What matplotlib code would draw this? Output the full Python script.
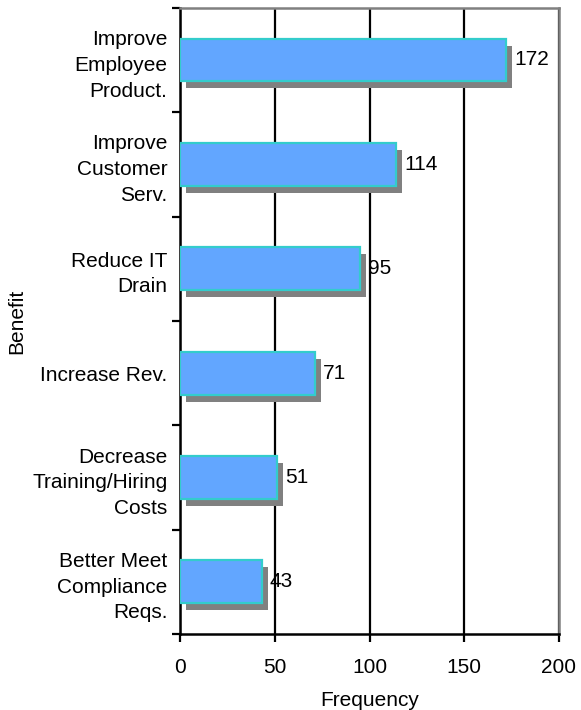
import matplotlib.pyplot as plt
from matplotlib.transforms import offset_copy

plt.rcParams['font.family'] = ['Liberation Sans', 'DejaVu Sans']

# Данные: преимущества и частоты (сверху вниз)
benefits = ['Improve\nEmployee\nProduct.',
            'Improve\nCustomer\nServ.',
            'Reduce IT\nDrain',
            'Increase Rev.',
            'Decrease\nTraining/Hiring\nCosts',
            'Better Meet\nCompliance\nReqs.']
frequency = [172, 114, 95, 71, 51, 43]
x_ticks = [0, 50, 100, 150, 200]

fs = 15

fig = plt.figure(figsize=(5.81, 7.10), dpi=100)
ax = fig.add_axes([0.31, 0.107, 0.652, 0.882])

n = len(benefits)
pos = [n - 1 - i for i in range(n)]

# Тень под столбцами
shadow_tr = offset_copy(ax.transData, fig=fig, x=6, y=-7, units='dots')
ax.barh(pos, frequency, height=0.41, color='#808080', transform=shadow_tr, zorder=2)
# Сами столбцы
ax.barh(pos, frequency, height=0.41, color='#62A6FF', edgecolor='#33CCCC',
        linewidth=1.6, zorder=3)

for p, v in zip(pos, frequency):
    ax.annotate(str(v), (v, p), xytext=(6, 0), textcoords='offset points',
                va='center', ha='left', fontsize=fs, zorder=4)

ax.set_xlim(0, 200)
ax.set_ylim(-0.5, n - 0.5)
ax.set_xticks(x_ticks)
ax.set_xticklabels([str(t) for t in x_ticks], fontsize=fs)
ax.tick_params(axis='x', direction='out', length=6, width=1.6, pad=11)

# Штрихи на границах категорий, подписи по центрам
ax.set_yticks([i - 0.5 for i in range(n + 1)])
ax.set_yticklabels([])
ax.set_yticks(pos, minor=True)
ax.set_yticklabels(benefits, minor=True, fontsize=fs, linespacing=1.45,
                   multialignment='right')
ax.tick_params(axis='y', which='major', direction='out', length=6, width=1.6)
ax.tick_params(axis='y', which='minor', length=0, pad=9)

ax.xaxis.grid(True, color='black', linewidth=1.6, zorder=1)
ax.set_axisbelow(True)

for side in ['left', 'bottom']:
    ax.spines[side].set_color('black')
    ax.spines[side].set_linewidth(1.8)
for side in ['top', 'right']:
    ax.spines[side].set_color('#808080')
    ax.spines[side].set_linewidth(1.8)

ax.set_xlabel('Frequency', fontsize=fs, labelpad=10)
ax.set_ylabel('Benefit', fontsize=fs)
ax.yaxis.set_label_coords(-0.405, 0.5)

fig.savefig('out.png', dpi=100)
